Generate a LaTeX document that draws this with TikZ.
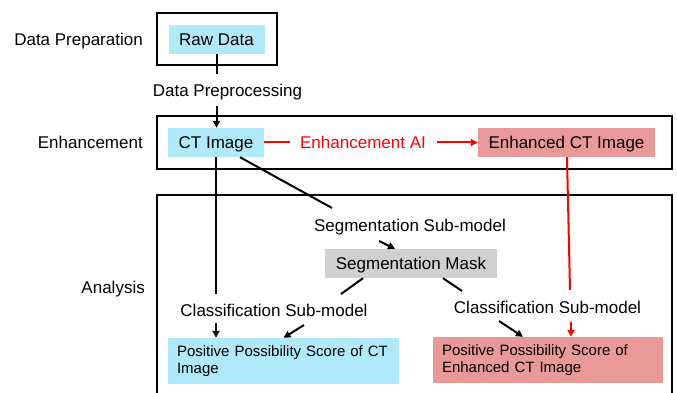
\documentclass[tikz,border=0pt]{standalone}
\usepackage{fontspec}
\setmainfont{Liberation Sans}
\usetikzlibrary{arrows.meta}
\definecolor{cyanfill}{HTML}{B0EAFA}
\definecolor{salmonfill}{HTML}{EA9999}
\definecolor{grayfill}{HTML}{D0D0D0}
\begin{document}
\begin{tikzpicture}[x=1pt,y=-1pt,
  frame/.style={line width=2.5pt},
  box/.style={inner sep=0pt, minimum height=29pt, text height=12.2pt, text depth=0pt, font=\fontsize{17}{20}\selectfont},
  score/.style={inner xsep=9pt, inner ysep=0pt, minimum height=46pt, align=left, font=\fontsize{15}{17}\selectfont},
  lbl/.style={font=\fontsize{17}{20}\selectfont, inner sep=0pt, anchor=base},
  sidelbl/.style={font=\fontsize{17}{20}\selectfont, inner sep=0pt, anchor=base east},
  conn/.style={line width=2pt},
  arr/.style={conn, -{Triangle[length=7pt,width=7pt]}}]
\useasboundingbox (0,0) rectangle (677,393);
% frames
\draw[frame] (157,13) rectangle (277,65);
\draw[frame] (157,116) rectangle (672,169);
\begin{scope}
  \clip (0,0) rectangle (677,393);
  \draw[frame] (157,195) rectangle (672,420);
\end{scope}
% side labels
\node[sidelbl] (lprep) at (143,46) {Data Preparation};
\node[sidelbl] (lenh) at (143,148) {Enhancement};
\node[sidelbl] (lana) at (145,293) {Analysis};
% boxes
\node[box, fill=cyanfill, minimum width=96pt] (raw) at (216.5,39.5) {Raw Data};
\node[box, fill=cyanfill, minimum width=96pt] (ct) at (216,142.5) {CT Image};
\node[box, fill=salmonfill, minimum width=177pt] (en) at (566.5,142.5) {Enhanced CT Image};
\node[box, fill=grayfill, minimum width=172pt] (seg) at (411,263.5) {Segmentation Mask};
\node[score, fill=cyanfill, minimum width=231pt, text width=213pt] (sl) at (283.5,361) {Positive Possibility Score of CT\\Image};
\node[score, fill=salmonfill, minimum width=230pt, text width=212pt] (sr) at (548,360) {Positive Possibility Score of\\Enhanced CT Image};
% labels
\node[lbl] (dp) at (227.5,97) {Data Preprocessing};
\node[lbl, text=red] (eai) at (363,148) {Enhancement AI};
\node[lbl] (ssm) at (410,231) {Segmentation Sub-model};
\node[lbl] (csl) at (274,316) {Classification Sub-model};
\node[lbl] (csr) at (547.5,313) {Classification Sub-model};
% coordinates
\coordinate (p1) at (216.5,74);
\coordinate (p2) at (216.5,106);
\coordinate (r1) at (290,142.5);
\coordinate (r2) at (437,142.5);
\coordinate (s1) at (332,208);
\coordinate (s2) at (379,241);
\coordinate (c1) at (341,294);
\coordinate (c2) at (304,325);
\coordinate (c3) at (216,294);
\coordinate (c4) at (216,323);
\coordinate (d1) at (462,291);
\coordinate (d2) at (499,321);
\coordinate (e1) at (570,290);
\coordinate (e2) at (571,322);
% connectors
\draw[conn] (raw.south) -- (p1);
\draw[arr] (p2) -- (p2 |- ct.north);
\draw[conn, red] (ct.east) -- (r1);
\draw[arr, red] (r2) -- (en.west);
\draw[conn] ([xshift=24pt]ct.south) -- (s1);
\draw[arr] (s2) -- ([xshift=-16pt]seg.north);
\draw[conn] ([xshift=-48pt]seg.south) -- (c1);
\draw[arr] (c2) -- (sl.north);
\draw[conn] (ct.south) -- (c3);
\draw[arr] (c4) -- (c4 |- sl.north);
\draw[conn] ([xshift=32pt]seg.south) -- (d1);
\draw[arr] (d2) -- ([xshift=-25pt]sr.north);
\draw[conn, red] ([xshift=0.5pt]en.south) -- (e1);
\draw[arr, red] (e2) -- (e2 |- sr.north);
\end{tikzpicture}
\end{document}
